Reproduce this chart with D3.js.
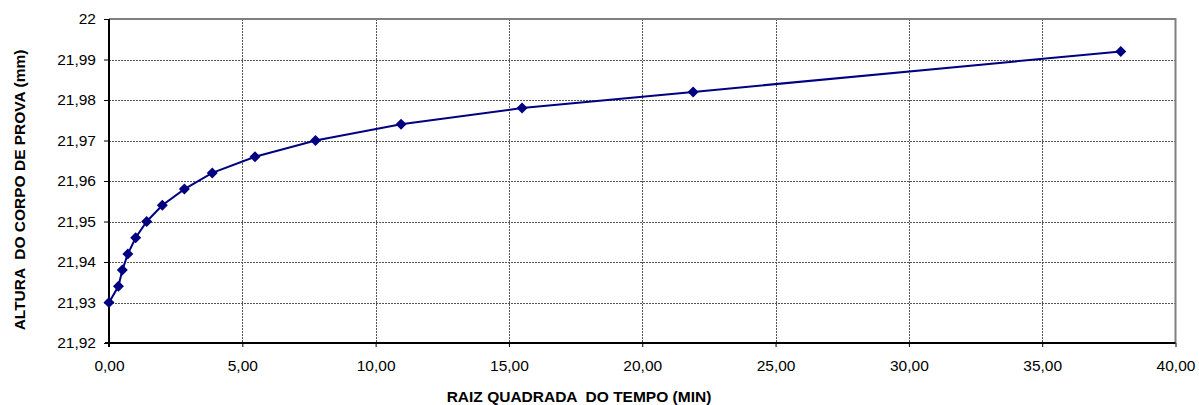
<!DOCTYPE html>
<html><head><meta charset="utf-8">
<script src="https://cdn.jsdelivr.net/npm/d3@7"></script>
<style>
body{margin:0;background:#fff;}
svg{font-family:"Liberation Sans",Arial,sans-serif;}
</style></head>
<body><svg id="c" width="1199" height="405"></svg>
<script>
const xValues = [0, 0.354, 0.5, 0.707, 1.0, 1.414, 2.0, 2.828, 3.873, 5.477, 7.746, 10.954, 15.492, 21.909, 37.947];
const yValues = [21.930, 21.934, 21.938, 21.942, 21.946, 21.950, 21.954, 21.958, 21.962, 21.966, 21.970, 21.974, 21.978, 21.982, 21.992];
const xTicks = [0, 5, 10, 15, 20, 25, 30, 35, 40];
const yTicks = [21.92, 21.93, 21.94, 21.95, 21.96, 21.97, 21.98, 21.99, 22];
const xTitle = "RAIZ QUADRADA  DO TEMPO (MIN)";
const yTitle = "ALTURA  DO CORPO DE PROVA (mm)";

const svg = d3.select("#c");
const L = 109, R = 1175.5, T = 19, B = 343;
const FS = 15.5;
const x = d3.scaleLinear().domain([0, 40]).range([L, R]);
const y = d3.scaleLinear().domain([21.92, 22]).range([B, T]);
const fmtX = d => d.toFixed(2).replace(".", ",");
const fmtY = d => (Math.round(d*100)/100).toString().replace(".", ",");

// gridlines
svg.append("g").selectAll("line").data(yTicks.filter(d => d > 21.92 && d < 22)).join("line")
  .attr("x1", L).attr("x2", R).attr("y1", d => Math.round(y(d)) + 0.5).attr("y2", d => Math.round(y(d)) + 0.5)
  .attr("stroke", "#555").attr("stroke-width", 1).attr("stroke-dasharray", "2,1");
svg.append("g").selectAll("line").data(xTicks.filter(d => d > 0 && d < 40)).join("line")
  .attr("y1", T).attr("y2", B).attr("x1", d => Math.round(x(d)) + 0.5).attr("x2", d => Math.round(x(d)) + 0.5)
  .attr("stroke", "#555").attr("stroke-width", 1).attr("stroke-dasharray", "2,1");

// top/right border
svg.append("path").attr("d", `M${L},${T}H${R}V${B}`).attr("fill", "none").attr("stroke", "#808080").attr("stroke-width", 2);

// axes
const xAxis = d3.axisBottom(x).tickValues(xTicks).tickFormat(fmtX).tickSize(4).tickPadding(13);
const gx = svg.append("g").attr("transform", `translate(0,${B})`).call(xAxis);
gx.select(".domain").attr("stroke", "#000").attr("stroke-width", 2).attr("d", `M${L-4},0H${R}`);
gx.selectAll(".tick line").attr("stroke", "#000");
gx.selectAll(".tick text").attr("font-size", FS).attr("fill", "#000").attr("font-family", "'Liberation Sans',Arial,sans-serif");

const yAxis = d3.axisLeft(y).tickValues(yTicks).tickFormat(fmtY).tickSize(5).tickPadding(8);
const gy = svg.append("g").attr("transform", `translate(${L},0)`).call(yAxis);
gy.select(".domain").attr("stroke", "#000").attr("stroke-width", 2).attr("d", `M0,${T}V${B+4}`);
gy.selectAll(".tick line").attr("stroke", "#000");
gy.selectAll(".tick text").attr("font-size", FS).attr("fill", "#000").attr("font-family", "'Liberation Sans',Arial,sans-serif");

// line
const pts = xValues.map((v, i) => [v, yValues[i]]);
svg.append("path").datum(pts)
  .attr("d", d3.line().x(d => x(d[0])).y(d => y(d[1])))
  .attr("fill", "none").attr("stroke", "#000080").attr("stroke-width", 2);
svg.append("g").selectAll("path").data(pts).join("path")
  .attr("transform", d => `translate(${x(d[0])},${y(d[1])})`)
  .attr("d", "M0,-5.5L5.5,0L0,5.5L-5.5,0Z").attr("fill", "#000080");

// titles
svg.append("text").attr("x", 579).attr("y", 402).attr("text-anchor", "middle")
  .attr("font-size", FS).attr("font-weight", "bold").style("white-space", "pre").text(xTitle);
svg.append("text").attr("transform", "translate(25,190) rotate(-90)").attr("text-anchor", "middle")
  .attr("font-size", FS).attr("font-weight", "bold").style("white-space", "pre").text(yTitle);
</script></body></html>
